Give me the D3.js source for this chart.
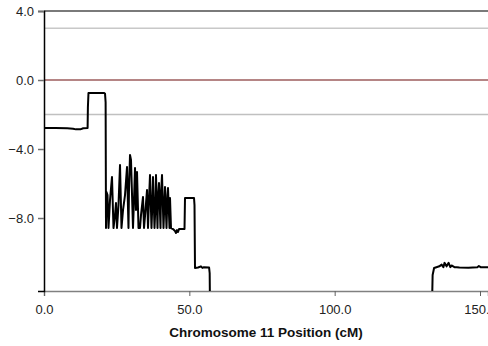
<!DOCTYPE html>
<html><head><meta charset="utf-8">
<script src="https://cdn.jsdelivr.net/npm/d3@7"></script>
<style>body{margin:0;background:#fff;} svg{display:block;font-family:"Liberation Sans",Arial,sans-serif;}</style>
</head><body>
<script>
const positions = [0,4,8,10,11,12.5,13.5,15,15.1,15.3,20.7,21.0,21.2,
  21.33,21.50,21.85,22.19,22.71,23.39,23.91,24.43,24.77,25.11,25.63,26.15,26.66,27.18,27.87,28.56,29.07,29.24,29.59,29.93,30.62,30.96,31.31,31.65,32.00,32.51,33.03,33.37,34.06,34.41,34.92,35.44,35.78,36.12,36.47,36.98,37.33,37.50,38.02,38.36,38.53,39.05,39.22,39.56,40.08,40.25,40.60,41.11,41.46,41.63,42.15,42.49,42.66,43.18,43.35,43.69,
  44.38,45.07,45.41,45.76,46.10,46.45,48.34,48.51,51.61,51.78,51.95,53,54,54.5,55,56.8,57.0,
  57.1,133.5,133.7,134.2,135,136,136.8,137.4,137.8,138.5,139.2,139.8,140.2,141.2,142.0,142.9,146,149.1,149.6,150.2,156];
const lod = [-2.78,-2.78,-2.8,-2.82,-2.86,-2.86,-2.8,-2.78,-1.6,-0.75,-0.75,-0.8,-1.3,
  -8.58,-6.49,-6.67,-8.58,-6.96,-5.62,-8.58,-7.83,-7.13,-8.58,-7.25,-4.93,-8.58,-7.54,-6.67,-5.04,-8.58,-6.38,-4.35,-4.64,-8.58,-6.96,-5.10,-7.54,-5.33,-8.58,-8.58,-7.83,-6.78,-8.58,-7.54,-6.38,-8.58,-6.96,-5.51,-8.58,-6.96,-5.62,-8.58,-7.25,-5.51,-8.58,-6.96,-5.97,-8.58,-6.67,-5.51,-8.58,-6.96,-6.20,-8.58,-6.67,-6.26,-8.58,-6.84,-8.58,
  -8.64,-8.75,-8.87,-8.70,-8.81,-8.64,-8.64,-6.84,-6.84,-7.25,-10.90,-10.87,-10.8,-10.89,-10.85,-10.87,-11.2,
  -13,-13,-11.3,-10.9,-10.85,-10.8,-10.7,-10.85,-10.6,-10.8,-10.6,-10.85,-10.75,-10.85,-10.85,-10.87,-10.88,-10.85,-10.78,-10.85,-10.85];
const xTicks = [0,50,100,150];
const yTicks = [4,0,-4,-8];
const refLines = [
  {v:4, color:"#7a7a7a", w:2},
  {v:3, color:"#c8c8c8", w:1.6},
  {v:0, color:"#b58585", w:2},
  {v:-2, color:"#c0c0c0", w:1.6}
];
const xTitle = "Chromosome 11 Position (cM)";

const W=488,H=346;
const svg = d3.select("body").append("svg").attr("width",W).attr("height",H);
const x = d3.scaleLinear().domain([0,152.75]).range([44,488]);
const y = d3.scaleLinear().domain([4,-12.23]).range([11,291]);

svg.append("defs").append("clipPath").attr("id","clip").append("rect")
  .attr("x",44).attr("y",0).attr("width",W-44).attr("height",291);

svg.selectAll("line.ref").data(refLines).join("line").attr("class","ref")
  .attr("x1",x(0)).attr("x2",W).attr("y1",d=>y(d.v)).attr("y2",d=>y(d.v))
  .attr("stroke",d=>d.color).attr("stroke-width",d=>d.w);

const gx = svg.append("g").attr("transform",`translate(0,${y(-12.23)})`)
  .call(d3.axisBottom(x).tickValues(xTicks).tickFormat(d3.format(".1f")).tickSizeOuter(0).tickSize(5));
gx.select(".domain").attr("stroke","#808080").attr("stroke-width",1.5);
gx.selectAll(".tick line").attr("stroke","#606060");
gx.selectAll("text").attr("font-size",13).attr("fill","#222").attr("dy","1.15em");

const gy = svg.append("g").attr("transform",`translate(${x(0)},0)`)
  .call(d3.axisLeft(y).tickValues(yTicks).tickFormat(d3.format(".1f")).tickSizeOuter(0).tickSize(6));
gy.select(".domain").attr("stroke","#000").attr("stroke-width",1.5);
gy.selectAll(".tick line").attr("stroke","#707070").attr("stroke-width",1.5);
gy.selectAll("text").attr("font-size",13).attr("fill","#222").attr("x",-10);

const pts = positions.map((p,i)=>[p,lod[i]]);
svg.append("path").datum(pts).attr("clip-path","url(#clip)")
  .attr("fill","none").attr("stroke","#000").attr("stroke-width",2).attr("stroke-linejoin","round")
  .attr("d",d3.line().x(d=>x(d[0])).y(d=>y(d[1])));

svg.append("text").attr("x",(44+488)/2).attr("y",337).attr("text-anchor","middle")
  .attr("font-size",13.5).attr("font-weight","bold").attr("fill","#111").text(xTitle);
</script>
</body></html>
